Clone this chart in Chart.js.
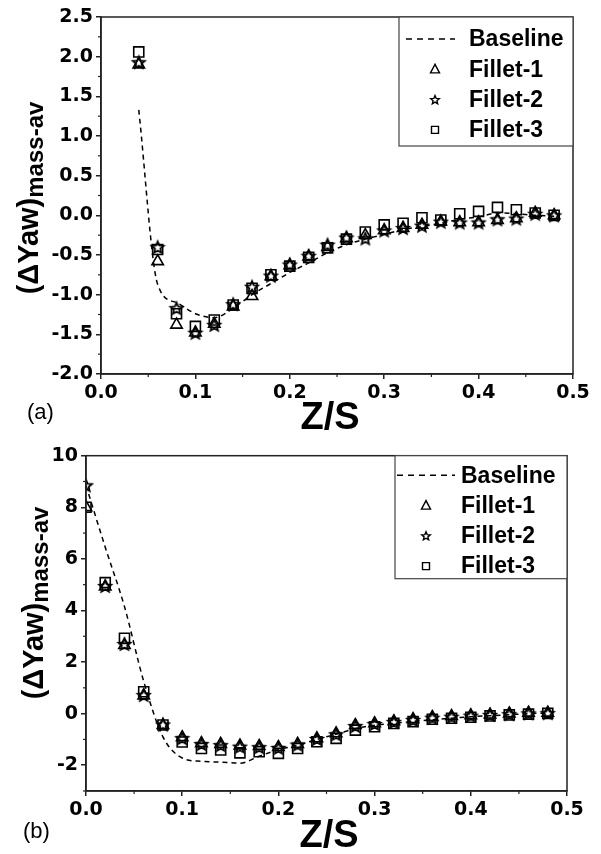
<!DOCTYPE html>
<html>
<head>
<meta charset="utf-8">
<script src="https://cdn.jsdelivr.net/npm/chart.js@4.4.1/dist/chart.umd.min.js"></script>
<style>
  html, body { margin: 0; padding: 0; background: #fff; }
  #wrap { position: relative; width: 601px; height: 854px; }
  canvas { position: absolute; left: 0; }
  #chartA { top: 0; }
  #chartB { top: 440px; }
</style>
</head>
<body>
<div id="wrap">
  <canvas id="chartA" width="601" height="440"></canvas>
  <canvas id="chartB" width="601" height="414"></canvas>
</div>
<script>
// ------------------------------------DATA (a)------------------------------------
const zsA = [0.04, 0.06, 0.08, 0.10, 0.12, 0.14, 0.16, 0.18, 0.20, 0.22, 0.24, 0.26,
             0.28, 0.30, 0.32, 0.34, 0.36, 0.38, 0.40, 0.42, 0.44, 0.46, 0.48];
const baselineA = [1.33, -0.87, -1.10, -1.24, -1.29, -1.17, -1.00, -0.86, -0.72, -0.60, -0.47, -0.37,
                   -0.30, -0.24, -0.18, -0.14, -0.10, -0.05, -0.02, 0.03, 0.02, 0.00, -0.01];
const fillet1A = [1.90, -0.58, -1.38, -1.48, -1.37, -1.15, -1.02, -0.77, -0.63, -0.52, -0.40, -0.29,
                  -0.25, -0.19, -0.16, -0.12, -0.08, -0.09, -0.09, -0.06, -0.04, 0.03, 0.00];
const fillet2A = [1.93, -0.40, -1.17, -1.48, -1.38, -1.12, -0.90, -0.76, -0.62, -0.51, -0.37, -0.28,
                  -0.29, -0.19, -0.16, -0.13, -0.08, -0.09, -0.09, -0.05, -0.04, 0.02, 0.00];
const fillet3A = [2.06, -0.43, -1.24, -1.40, -1.32, -1.13, -0.92, -0.75, -0.64, -0.53, -0.41, -0.30,
                  -0.21, -0.12, -0.10, -0.03, -0.06, 0.02, 0.05, 0.10, 0.07, 0.03, 0.00];

// ------------------------------------DATA (b)------------------------------------
const zsB = [0.00, 0.02, 0.04, 0.06, 0.08, 0.10, 0.12, 0.14, 0.16, 0.18, 0.20, 0.22, 0.24,
             0.26, 0.28, 0.30, 0.32, 0.34, 0.36, 0.38, 0.40, 0.42, 0.44, 0.46, 0.48];
const baselineB = [8.85, 6.45, 4.15, 1.25, -0.90, -1.72, -1.85, -1.88, -1.92, -1.65, -1.40, -1.22, -1.00,
                   -0.80, -0.58, -0.45, -0.38, -0.30, -0.24, -0.18, -0.12, -0.08, -0.04, 0.00, 0.02];
const fillet1B = [8.00, 4.92, 2.65, 0.70, -0.45, -0.92, -1.15, -1.18, -1.24, -1.26, -1.30, -1.18, -0.96,
                  -0.77, -0.45, -0.38, -0.30, -0.22, -0.14, -0.10, -0.07, -0.04, 0.00, 0.03, 0.03];
const fillet2B = [8.85, 4.95, 2.70, 0.72, -0.42, -0.95, -1.18, -1.22, -1.28, -1.30, -1.33, -1.20, -0.98,
                  -0.80, -0.48, -0.40, -0.32, -0.24, -0.16, -0.12, -0.08, -0.05, -0.02, 0.01, 0.02];
const fillet3B = [8.00, 5.08, 2.92, 0.85, -0.44, -1.10, -1.35, -1.41, -1.52, -1.48, -1.54, -1.35, -1.09,
                  -0.96, -0.64, -0.51, -0.38, -0.31, -0.22, -0.18, -0.14, -0.09, -0.05, -0.02, 0.01];

const seriesNames = ['Baseline', 'Fillet-1', 'Fillet-2', 'Fillet-3'];

// ------------------------------------MARKERS------------------------------------
function markerPath(ctx, kind, x, y, s) {
  ctx.beginPath();
  if (kind === 'triangle') {
    ctx.moveTo(x, y - s * 0.55);
    ctx.lineTo(x - s / 2, y + s * 0.4);
    ctx.lineTo(x + s / 2, y + s * 0.4);
    ctx.closePath();
  } else if (kind === 'square') {
    ctx.rect(x - s / 2, y - s / 2, s, s);
  } else if (kind === 'star') {
    const R = s / 2, r = R * 0.45;
    for (let i = 0; i < 10; i++) {
      const ang = -Math.PI / 2 + i * Math.PI / 5;
      const rad = i % 2 === 0 ? R : r;
      const px = x + rad * Math.cos(ang), py = y + rad * Math.sin(ang) + s * 0.05;
      if (i === 0) ctx.moveTo(px, py); else ctx.lineTo(px, py);
    }
    ctx.closePath();
  }
}

// star has no built-in point style, so it is an offscreen canvas
function makeStar(s) {
  const c = document.createElement('canvas');
  c.width = 18;
  c.height = 18;
  const ctx = c.getContext('2d');
  ctx.strokeStyle = '#000';
  ctx.lineWidth = 1.8;
  markerPath(ctx, 'star', 9, 9, s);
  ctx.stroke();
  return c;
}

const markerKinds = ['line', 'triangle', 'star', 'square'];
const pointStyles = { triangle: 'triangle', star: makeStar(12.5), square: 'rect' };
const pointRadii = { triangle: 6.6, star: 6, square: 7.1 };

// ------------------------------------PLUGIN: frame, minor ticks, legend, titles------------------------------------
const decor = {
  id: 'decor',
  afterDraw(chart, args, o) {
    const ctx = chart.ctx, a = chart.chartArea;
    const xs = chart.scales.x, ys = chart.scales.y;
    ctx.save();
    ctx.strokeStyle = '#222';
    ctx.lineWidth = 1.5;
    ctx.strokeRect(a.left, a.top, a.right - a.left, a.bottom - a.top);

    // minor ticks
    ctx.lineWidth = 1.2;
    o.xMinor.forEach(v => {
      const px = xs.getPixelForValue(v);
      ctx.beginPath(); ctx.moveTo(px, a.bottom); ctx.lineTo(px, a.bottom + 3); ctx.stroke();
    });
    o.yMinor.forEach(v => {
      const py = ys.getPixelForValue(v);
      ctx.beginPath(); ctx.moveTo(a.left, py); ctx.lineTo(a.left - 3, py); ctx.stroke();
    });

    // legend
    const L = o.legend;
    ctx.fillStyle = '#fff';
    ctx.fillRect(L.left, a.top, a.right - L.left, L.height);
    ctx.strokeStyle = '#444';
    ctx.lineWidth = 1.2;
    ctx.strokeRect(L.left, a.top, a.right - L.left, L.height);
    ctx.strokeStyle = '#000';
    ctx.fillStyle = '#000';
    ctx.font = 'bold 23px "Liberation Sans"';
    ctx.textBaseline = 'middle';
    ctx.textAlign = 'left';
    chart.data.datasets.forEach((ds, i) => {
      const y = a.top + L.row0 + i * L.step;
      const kind = markerKinds[i];
      if (kind === 'line') {
        ctx.lineWidth = 1.5;
        ctx.setLineDash([6, 5]);
        ctx.beginPath(); ctx.moveTo(L.lineX0, y); ctx.lineTo(L.lineX1, y); ctx.stroke();
        ctx.setLineDash([]);
      } else {
        ctx.lineWidth = 1.4;
        markerPath(ctx, kind, L.markX, y, kind === 'square' ? 7 : 9);
        ctx.stroke();
      }
      ctx.fillText(ds.label, L.textX, y + 1);
    });

    // y title with subscript
    const T = o.yTitle;
    ctx.save();
    ctx.translate(T.x, T.y);
    ctx.rotate(-Math.PI / 2);
    ctx.textBaseline = 'alphabetic';
    ctx.font = 'bold 29px "Liberation Sans"';
    const w1 = ctx.measureText('(ΔYaw)').width;
    ctx.font = 'bold 24px "Liberation Sans"';
    const w2 = ctx.measureText('mass-av').width;
    const sx = -(w1 + w2) / 2;
    ctx.font = 'bold 29px "Liberation Sans"';
    ctx.fillText('(ΔYaw)', sx, 0);
    ctx.font = 'bold 24px "Liberation Sans"';
    ctx.fillText('mass-av', sx + w1, 5);
    ctx.restore();

    // x title
    ctx.textAlign = 'center';
    ctx.textBaseline = 'alphabetic';
    ctx.font = 'bold 38px "Liberation Sans"';
    ctx.fillText('Z/S', o.xTitle.x, o.xTitle.y);

    // panel label
    ctx.textAlign = 'left';
    ctx.font = '22px "Liberation Sans"';
    ctx.fillText(o.panel.text, o.panel.x, o.panel.y);
    ctx.restore();
  }
};

// ------------------------------------CONSTRUCTOR GRAFICO------------------------------------
function Grafico(DOM, zs, series, cfg) {
  const ctx = document.getElementById(DOM).getContext('2d');
  const datasets = series.map((vals, i) => {
    const pts = zs.map((z, k) => ({ x: z, y: vals[k] }));
    if (i === 0) {
      return {
        label: seriesNames[i], data: pts, showLine: true,
        borderColor: '#000', borderWidth: 1.5, borderDash: [5, 4],
        pointRadius: 0, cubicInterpolationMode: 'monotone', order: 4
      };
    }
    const kind = markerKinds[i];
    return {
      label: seriesNames[i], data: pts, showLine: false,
      pointStyle: pointStyles[kind], pointRadius: pointRadii[kind], pointBorderWidth: 1.6,
      borderColor: '#000', backgroundColor: 'rgba(0,0,0,0)', order: 4 - i
    };
  });
  const tickFont = { family: 'DejaVu Sans', weight: 'bold', size: 19 };
  return new Chart(ctx, {
    type: 'scatter',
    data: { datasets },
    options: {
      responsive: false,
      animation: false,
      devicePixelRatio: 1,
      layout: { padding: { left: 0, top: cfg.top, right: cfg.right, bottom: 0 } },
      scales: {
        x: {
          type: 'linear', min: 0, max: 0.5,
          afterFit: s => { s.height = cfg.xH; },
          ticks: { stepSize: 0.1, callback: v => v.toFixed(1), font: tickFont, color: '#000',
                   padding: 3, maxRotation: 0, autoSkip: false },
          grid: { drawOnChartArea: false, drawTicks: true, tickLength: 5, color: '#222', lineWidth: 1.5 },
          border: { color: '#222', width: 1.5 }
        },
        y: {
          type: 'linear', min: cfg.yMin, max: cfg.yMax,
          afterFit: s => { s.width = cfg.yW; },
          ticks: { stepSize: cfg.yStep, includeBounds: false, callback: cfg.yFmt, font: tickFont,
                   color: '#000', padding: 3, autoSkip: false },
          grid: { drawOnChartArea: false, drawTicks: true, tickLength: 5, color: '#222', lineWidth: 1.5 },
          border: { color: '#222', width: 1.5 }
        }
      },
      plugins: {
        legend: { display: false },
        tooltip: { enabled: false },
        decor: cfg.decor
      }
    },
    plugins: [decor]
  });
}

const xMinor = [0.05, 0.15, 0.25, 0.35, 0.45];

const graficoA = new Grafico('chartA', zsA, [baselineA, fillet1A, fillet2A, fillet3A], {
  top: 17, right: 28, xH: 66, yW: 101,
  yMin: -2, yMax: 2.5, yStep: 0.5, yFmt: v => v.toFixed(1),
  decor: {
    xMinor,
    yMinor: [-1.75, -1.25, -0.75, -0.25, 0.25, 0.75, 1.25, 1.75, 2.25],
    legend: { left: 399, height: 129, row0: 22, step: 30.3, lineX0: 406, lineX1: 455, markX: 435, textX: 469 },
    yTitle: { x: 38, y: 198 },
    xTitle: { x: 330, y: 429 },
    panel: { text: '(a)', x: 27, y: 419 }
  }
});

const graficoB = new Grafico('chartB', zsB, [baselineB, fillet1B, fillet2B, fillet3B], {
  top: 15.7, right: 34, xH: 63, yW: 86,
  yMin: -3, yMax: 10, yStep: 2, yFmt: v => String(v),
  decor: {
    xMinor,
    yMinor: [-3, -1, 1, 3, 5, 7, 9],
    legend: { left: 395, height: 123, row0: 19.5, step: 30.3, lineX0: 397, lineX1: 455, markX: 426, textX: 461 },
    yTitle: { x: 43, y: 163 },
    xTitle: { x: 329, y: 407 },
    panel: { text: '(b)', x: 23, y: 398 }
  }
});
</script>
</body>
</html>
